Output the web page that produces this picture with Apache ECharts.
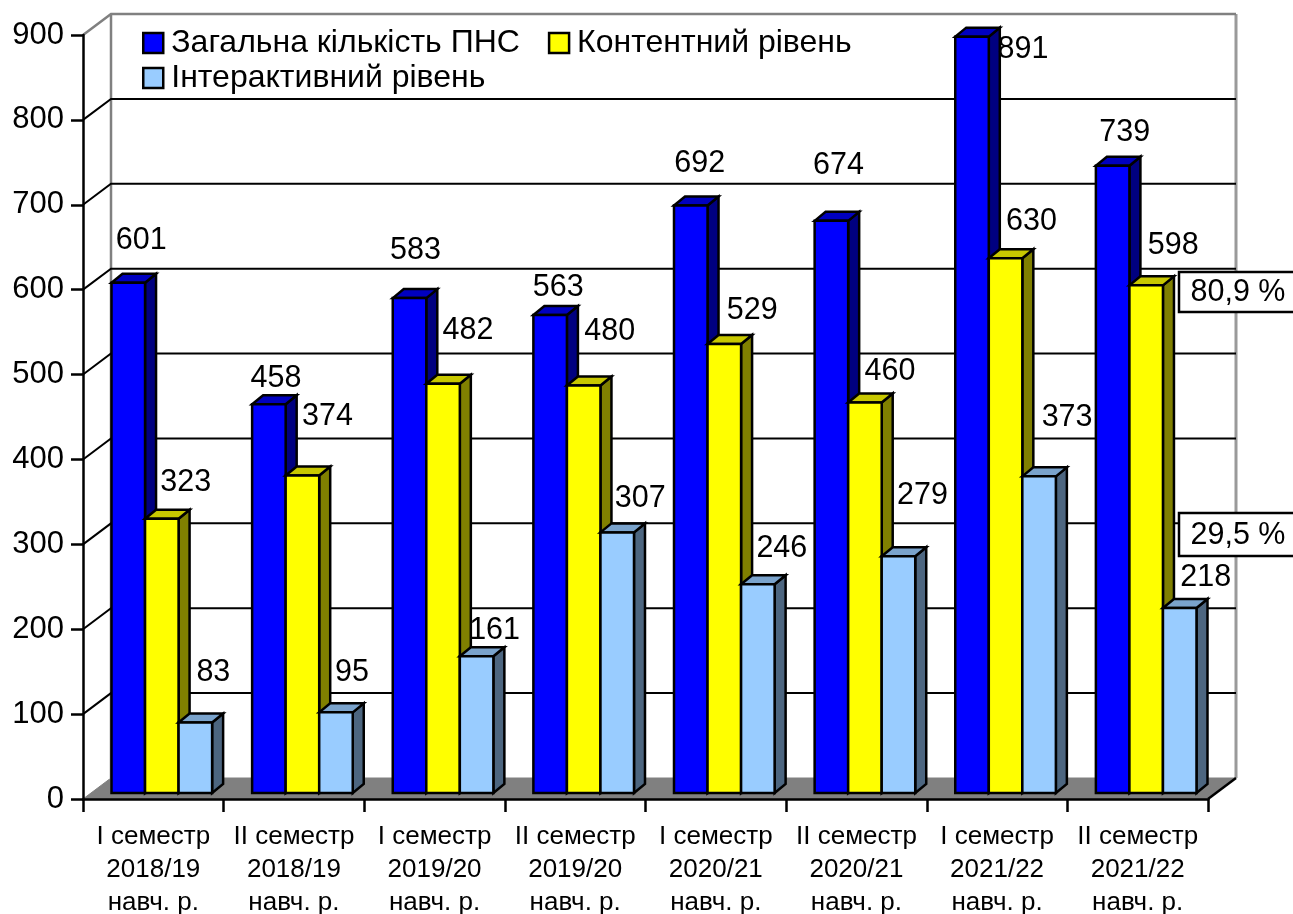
<!DOCTYPE html>
<html><head><meta charset="utf-8">
<style>html,body{margin:0;padding:0;background:#fff}#c{width:1293px;height:914px}</style>
<script src="https://cdn.jsdelivr.net/npm/echarts@6/dist/echarts.min.js"></script>
</head><body><div id="c"></div>
<script>
const categories = ['I семестр\n2018/19\nнавч. р.','II семестр\n2018/19\nнавч. р.','I семестр\n2019/20\nнавч. р.','II семестр\n2019/20\nнавч. р.','I семестр\n2020/21\nнавч. р.','II семестр\n2020/21\nнавч. р.','I семестр\n2021/22\nнавч. р.','II семестр\n2021/22\nнавч. р.'];
const totalValues = [601,458,583,563,692,674,891,739];
const contentValues = [323,374,482,480,529,460,630,598];
const interactiveValues = [83,95,161,307,246,279,373,218];
const yTicks = [0,100,200,300,400,500,600,700,800,900];
const seriesNames = ['Загальна кількість ПНС','Контентний рівень','Інтерактивний рівень'];
// label nudges from each bar's top-centre, as [dx, dy]
const totalLabelShift = [[13,-42],[7,-26],[6,-48],[8,-27],[9,-42],[7,-55],[51,13],[12,-33]];
const contentLabelShift = [[24,-36],[25,-59],[25,-53],[26,-54],[28,-33],[25,-31],[26,-37],[27,-40]];
const interactiveLabelShift = [[18,-50],[16,-40],[18,-26],[23,-34],[24,-36],[24,-61],[28,-59],[26,-30]];

const FONT = '"Liberation Sans", Arial, sans-serif';
const WALL_DX = 28, WALL_DY = -21, BAR_DX = 11, BAR_DY = -9;

function barSeries(name, k, values, shifts, front, top, side) {
  return {
    name, type: 'custom', coordinateSystem: 'cartesian2d', z: 3,
    itemStyle: {color: front, borderColor: '#000', borderWidth: 2},
    encode: {x: 0, y: 1},
    data: values.map((v, i) => [i, v]),
    renderItem(params, api) {
      const i = api.value(0), v = api.value(1);
      const band = api.size([1, 0])[0];
      const w = band * 0.2385;
      const base = api.coord([i, 0]), tp = api.coord([i, v]);
      const x0 = base[0] - band / 2 + 28.5 + k * w, x1 = x0 + w;
      const yb = base[1] - 6, yt = tp[1] - 6;
      const st = {stroke: '#000', lineWidth: 2.5, lineJoin: 'miter'};
      const s = shifts[i];
      return {type: 'group', children: [
        {type: 'polygon', shape: {points: [[x1,yb],[x1+BAR_DX,yb+BAR_DY],[x1+BAR_DX,yt+BAR_DY],[x1,yt]]}, style: {fill: side, ...st}},
        {type: 'polygon', shape: {points: [[x0,yt],[x0+BAR_DX,yt+BAR_DY],[x1+BAR_DX,yt+BAR_DY],[x1,yt]]}, style: {fill: top, ...st}},
        {type: 'rect', shape: {x: x0, y: yt, width: w, height: yb - yt}, style: {fill: front, ...st}},
        {type: 'text', z2: 50, style: {x: (x0 + x1) / 2 + s[0], y: yt + s[1], text: String(v), align: 'center', verticalAlign: 'middle', font: '30.5px ' + FONT, fill: '#000'}}
      ]};
    }
  };
}

const wallSeries = {
  name: 'wall', type: 'custom', coordinateSystem: 'cartesian2d', z: 1, silent: true,
  encode: {y: 0},
  data: yTicks.map(v => [v]),
  renderItem(params, api) {
    const v = api.value(0);
    const a = api.coord([0, v]);
    const band = api.size([1, 0])[0];
    const xL = a[0] - band / 2, xR = xL + band * categories.length;
    const y = a[1];
    const kids = [];
    if (v === 0) {
      const yTop = api.coord([0, 900])[1];
      kids.push({type: 'polygon', shape: {points: [[xL,y],[xL+WALL_DX,y+WALL_DY],[xR+WALL_DX,y+WALL_DY],[xR,y]]}, style: {fill: '#808080', stroke: '#808080', lineWidth: 1}});
      kids.push({type: 'line', z2: 5, shape: {x1: xL+WALL_DX, y1: y+WALL_DY, x2: xL+WALL_DX, y2: yTop+WALL_DY}, style: {stroke: '#808080', lineWidth: 2.5}});
      kids.push({type: 'line', z2: 5, shape: {x1: xR+WALL_DX, y1: y+WALL_DY, x2: xR+WALL_DX, y2: yTop+WALL_DY}, style: {stroke: '#9a9a9a', lineWidth: 3}});
      kids.push({type: 'line', z2: 6, shape: {x1: xR, y1: y, x2: xR+WALL_DX, y2: y+WALL_DY}, style: {stroke: '#000', lineWidth: 2.5}});
      return {type: 'group', children: kids};
    }
    const col = v === 900 ? '#808080' : '#000';
    kids.push({type: 'polyline', z2: 10, shape: {points: [[xL,y],[xL+WALL_DX,y+WALL_DY],[xR+WALL_DX,y+WALL_DY]]}, style: {stroke: col, fill: 'none', lineWidth: v === 900 ? 2.5 : 2}});
    return {type: 'group', children: kids};
  }
};

function callout(top, h, text) {
  return [
    {type: 'rect', z: 100, shape: {x: 1179, y: top, width: 130, height: h}, style: {fill: '#fff', stroke: '#000', lineWidth: 2.5}},
    {type: 'text', z: 101, style: {x: 1238, y: top + h / 2 + 1, text, align: 'center', verticalAlign: 'middle', font: '30.5px ' + FONT, fill: '#000'}}
  ];
}

const legendBase = {orient: 'horizontal', itemWidth: 20, itemHeight: 20, itemGap: 28, icon: 'rect', selectedMode: false,
  itemStyle: {borderColor: '#000', borderWidth: 2.5},
  textStyle: {fontFamily: FONT, fontSize: 32, color: '#000', padding: [0,0,0,3]}, padding: 0};

const chart = echarts.init(document.getElementById('c'), null, {renderer: 'canvas'});
chart.setOption({
  animation: false, backgroundColor: '#fff',
  grid: {left: 83, top: 35, width: 1125, height: 764, containLabel: false, outerBoundsMode: 'none'},
  legend: [
    {...legendBase, left: 142, top: 27, data: seriesNames.slice(0, 2)},
    {...legendBase, left: 142, top: 62, data: seriesNames.slice(2)}
  ],
  xAxis: {type: 'category', data: categories, boundaryGap: true,
    axisLine: {show: true, lineStyle: {color: '#000', width: 2.5}},
    axisTick: {show: true, length: 13, alignWithLabel: false, lineStyle: {color: '#000', width: 2.5}},
    axisLabel: {interval: 0, fontFamily: FONT, fontSize: 26, color: '#000', lineHeight: 33, margin: 21},
    splitLine: {show: false}, z: 8},
  yAxis: {type: 'value', min: 0, max: 900, interval: 100,
    axisLine: {show: true, lineStyle: {color: '#000', width: 2.5}},
    axisTick: {show: true, length: 12, lineStyle: {color: '#000', width: 2.5}},
    axisLabel: {fontFamily: FONT, fontSize: 31, color: '#000', margin: 19},
    splitLine: {show: false}, z: 8},
  series: [
    wallSeries,
    barSeries(seriesNames[0], 0, totalValues, totalLabelShift, '#0000FF', '#0000C0', '#000080'),
    barSeries(seriesNames[1], 1, contentValues, contentLabelShift, '#FFFF00', '#C8C800', '#808000'),
    barSeries(seriesNames[2], 2, interactiveValues, interactiveLabelShift, '#99CCFF', '#7AA3CC', '#4D6680')
  ],
  graphic: [...callout(272, 40, '80,9 %'), ...callout(513, 43, '29,5 %')]
});
</script></body></html>
